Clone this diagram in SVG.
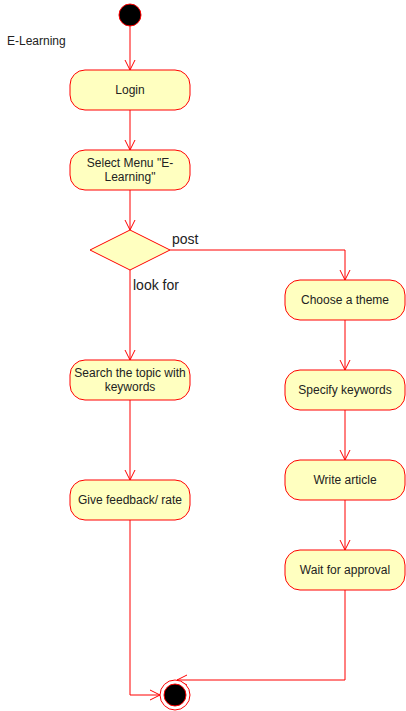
<svg xmlns="http://www.w3.org/2000/svg" width="406" height="711" viewBox="0 0 406 711">
<defs>
<style>
.act{fill:#ffffc0;stroke:#ff0000;stroke-width:1}
.t{font-family:"Liberation Sans",Arial,sans-serif;font-size:12px;fill:#222;text-anchor:middle}
.lbl{font-family:"Liberation Sans",Arial,sans-serif;font-size:14px;fill:#222}
.edge{fill:none;stroke:#ff0000;stroke-width:1}
</style>
<marker id="arr" viewBox="0 0 12 12" refX="11" refY="6" markerWidth="12" markerHeight="12" markerUnits="userSpaceOnUse" orient="auto">
<path d="M1,1 L11,6 L1,11" fill="none" stroke="#ff0000" stroke-width="1"/>
</marker>
</defs>
<rect width="406" height="711" fill="#ffffff"/>
<text x="7" y="45" class="lbl" style="font-size:12px">E-Learning</text>
<g id="connectors">
<path class="edge" d="M130,26 L130,70" marker-end="url(#arr)"/>
<path class="edge" d="M130,110 L130,150" marker-end="url(#arr)"/>
<path class="edge" d="M130,190 L130,230" marker-end="url(#arr)"/>
<path class="edge" d="M170,250 L345,250 L345,280" marker-end="url(#arr)"/>
<path class="edge" d="M130,270 L130,360" marker-end="url(#arr)"/>
<path class="edge" d="M130,400 L130,480" marker-end="url(#arr)"/>
<path class="edge" d="M345,320 L345,370" marker-end="url(#arr)"/>
<path class="edge" d="M345,410 L345,460" marker-end="url(#arr)"/>
<path class="edge" d="M345,500 L345,550" marker-end="url(#arr)"/>
<path class="edge" d="M130,520 L130,695 L160,695" marker-end="url(#arr)"/>
<path class="edge" d="M345,590 L345,680 L177,680" marker-end="url(#arr)"/>
<text x="172" y="244" class="lbl">post</text>
<text x="133" y="290" class="lbl">look for</text>
</g>
<g id="start"><circle cx="130" cy="15" r="11" fill="#000" stroke="#ff0000"/></g>
<g id="login"><rect class="act" x="70" y="70" width="120" height="40" rx="15"/><text class="t" x="130" y="94">Login</text></g>
<g id="selectMenu"><rect class="act" x="70" y="150" width="120" height="40" rx="15"/><text class="t" x="130" y="167">Select Menu "E-</text><text class="t" x="130" y="181">Learning"</text></g>
<g id="decision"><path class="act" d="M130,230 L170,250 L130,270 L90,250 Z"/></g>
<g id="search"><rect class="act" x="70" y="360" width="120" height="40" rx="15"/><text class="t" x="130" y="377">Search the topic with</text><text class="t" x="130" y="391">keywords</text></g>
<g id="feedback"><rect class="act" x="70" y="480" width="120" height="40" rx="15"/><text class="t" x="130" y="504">Give feedback/ rate</text></g>
<g id="theme"><rect class="act" x="285" y="280" width="120" height="40" rx="15"/><text class="t" x="345" y="304">Choose a theme</text></g>
<g id="keywords"><rect class="act" x="285" y="370" width="120" height="40" rx="15"/><text class="t" x="345" y="394">Specify keywords</text></g>
<g id="write"><rect class="act" x="285" y="460" width="120" height="40" rx="15"/><text class="t" x="345" y="484">Write article</text></g>
<g id="approval"><rect class="act" x="285" y="550" width="120" height="40" rx="15"/><text class="t" x="345" y="574">Wait for approval</text></g>
<g id="end"><circle cx="175" cy="695" r="15" fill="#fff" stroke="#ff0000"/><circle cx="175" cy="695" r="11" fill="#000" stroke="#ff0000"/></g>
</svg>
